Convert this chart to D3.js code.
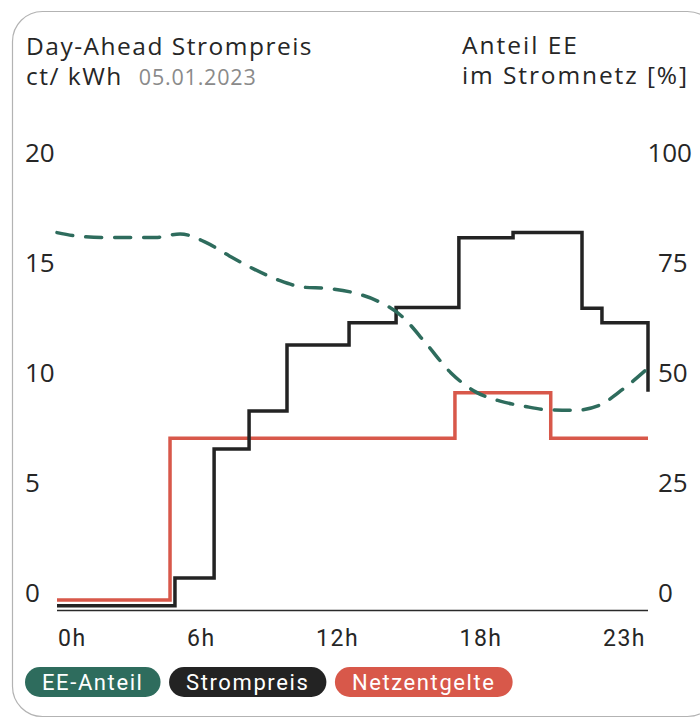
<!DOCTYPE html>
<html>
<head>
<meta charset="utf-8">
<script src="https://cdn.jsdelivr.net/npm/d3@7"></script>
<style>
  html, body { margin: 0; padding: 0; background: #fff; }
  svg { display: block; }
</style>
</head>
<body>
<svg id="chart" width="700" height="719"></svg>
<script>
// Day-ahead electricity price (ct/kWh): value holds from each hour mark to the next
const priceHours  = [0, 4.79, 6.38, 7.80, 9.34, 11.86, 13.77, 16.32, 18.52, 21.32, 22.13, 24];
const priceValues = [-0.26, 1.0, 6.86, 8.59, 11.59, 12.6, 13.3, 16.47, 16.7, 13.26, 12.6, 9.47];

// Grid fees (ct/kWh)
const feeHours  = [0, 4.59, 16.16, 20.05, 24];
const feeValues = [0, 7.35, 9.42, 7.35, 7.35];

// Share of renewables in the grid (%), hourly
const eeHours  = d3.range(0, 25);
const eeShare  = [83.5, 82.6, 82.4, 82.4, 82.4, 83.2, 81.4, 78.2, 75.2, 72.7, 71.1, 70.8, 69.9,
                  68.0, 64.5, 58.2, 51.6, 47.3, 45.2, 44.0, 43.2, 43.1, 44.2, 48.0, 52.7];

const priceTicks = [0, 5, 10, 15, 20];
const shareTicks = [0, 25, 50, 75, 100];
const hourLabels = ["0h", "6h", "12h", "18h", "23h"];

const legendLabels = ["EE-Anteil", "Strompreis", "Netzentgelte"];
const legendColors = ["#2e6c5d", "#232323", "#d8584a"];

const COLOR_EE = "#2e6c5d", COLOR_PRICE = "#232323", COLOR_FEE = "#d8584a";
const TITLE_FONT = "'Open Sans', sans-serif";
const NARROW_FONT = "Roboto, 'Open Sans', sans-serif";

const svg = d3.select("#chart");

// card frame
svg.append("rect")
  .attr("x", 12.5).attr("y", 11.5)
  .attr("width", 705).attr("height", 705)
  .attr("rx", 30).attr("ry", 30)
  .attr("fill", "#fff").attr("stroke", "#b3b3b3").attr("stroke-width", 1.2);

// headings
const head = svg.append("g").attr("font-family", TITLE_FONT).attr("fill", "#262626")
  .attr("font-size", 24.5);
head.append("text").attr("x", 26).attr("y", 55).attr("letter-spacing", 1.5)
  .text("Day-Ahead Strompreis");
const l2 = head.append("text").attr("x", 26).attr("y", 85).attr("letter-spacing", 1.5);
l2.append("tspan").text("ct/ kWh");
l2.append("tspan").attr("dx", 16).attr("font-size", 21.5).attr("letter-spacing", 0.8)
  .attr("fill", "#8a8a8a").text("05.01.2023");
head.append("text").attr("x", 462).attr("y", 54).attr("letter-spacing", 2)
  .text("Anteil EE");
head.append("text").attr("x", 462).attr("y", 84).attr("letter-spacing", 1.9)
  .text("im Stromnetz [%]");

// scales
const x  = d3.scaleLinear().domain([0, 24]).range([57, 648]);
const y  = d3.scaleLinear().domain([0, 20]).range([600, 160]);
const yR = d3.scaleLinear().domain([0, 100]).range([600, 160]);

// left value axis (labels only)
const axL = svg.append("g")
  .attr("transform", "translate(25,-7)")
  .call(d3.axisRight(y).tickValues(priceTicks).tickSize(0).tickPadding(0));
axL.select(".domain").remove();
axL.selectAll("text").attr("font-family", TITLE_FONT).attr("font-size", 26)
  .attr("fill", "#262626").attr("text-anchor", "start");

// right value axis (labels only)
const axR = svg.append("g")
  .attr("transform", "translate(658,-7)")
  .call(d3.axisRight(yR).tickValues(shareTicks).tickSize(0).tickPadding(0));
axR.select(".domain").remove();
axR.selectAll("text").attr("font-family", TITLE_FONT).attr("font-size", 26)
  .attr("fill", "#262626").attr("text-anchor", "start")
  .each(function () {
    // keep wide labels inside the card
    const w = this.getComputedTextLength();
    const over = (658 + w) - 692;
    if (over > 0) d3.select(this).attr("x", -over);
  });

// baseline
svg.append("line")
  .attr("x1", x(0)).attr("x2", x(24))
  .attr("y1", 610.5).attr("y2", 610.5)
  .attr("stroke", "#2a2a2a").attr("stroke-width", 1.6);

// hour labels spread evenly edge to edge
const hl = svg.append("g").attr("font-family", NARROW_FONT).attr("font-size", 23)
  .attr("fill", "#262626").attr("letter-spacing", 1.5);
const hTexts = hl.selectAll("text").data(hourLabels).join("text")
  .attr("y", 646).text(d => d);
const widths = [];
hTexts.each(function () { widths.push(this.getComputedTextLength()); });
const left = 58, right = 646;
const gap = (right - left - d3.sum(widths)) / (hourLabels.length - 1);
let cx = left;
hTexts.each(function (d, i) { d3.select(this).attr("x", cx); cx += widths[i] + gap; });

// series
const stepLine = (ys) => d3.line().x(d => x(d[0])).y(d => ys(d[1])).curve(d3.curveStepAfter);

svg.append("path")
  .datum(d3.zip(feeHours, feeValues))
  .attr("fill", "none").attr("stroke", COLOR_FEE).attr("stroke-width", 3.5)
  .attr("d", stepLine(y));

svg.append("path")
  .datum(d3.zip(priceHours, priceValues))
  .attr("fill", "none").attr("stroke", COLOR_PRICE).attr("stroke-width", 3.5)
  .attr("d", stepLine(y));

svg.append("path")
  .datum(d3.zip(eeHours, eeShare))
  .attr("fill", "none").attr("stroke", COLOR_EE).attr("stroke-width", 3.5)
  .attr("stroke-dasharray", "16 13").attr("stroke-linecap", "round")
  .attr("d", d3.line().x(d => x(d[0])).y(d => yR(d[1])).curve(d3.curveMonotoneX));

// legend pills
const leg = svg.append("g").attr("font-family", NARROW_FONT).attr("font-size", 22)
  .attr("letter-spacing", 1.6);
let lx = 25;
legendLabels.forEach((lab, i) => {
  const g = leg.append("g");
  const r = g.append("rect").attr("y", 667).attr("height", 30).attr("rx", 15)
    .attr("fill", legendColors[i]);
  const t = g.append("text").attr("y", 690).attr("fill", "#fff").text(lab);
  const w = t.node().getComputedTextLength();
  const pad = 17;
  r.attr("x", lx).attr("width", w + 2 * pad);
  t.attr("x", lx + pad);
  lx += w + 2 * pad + 8.5;
});
</script>
</body>
</html>
